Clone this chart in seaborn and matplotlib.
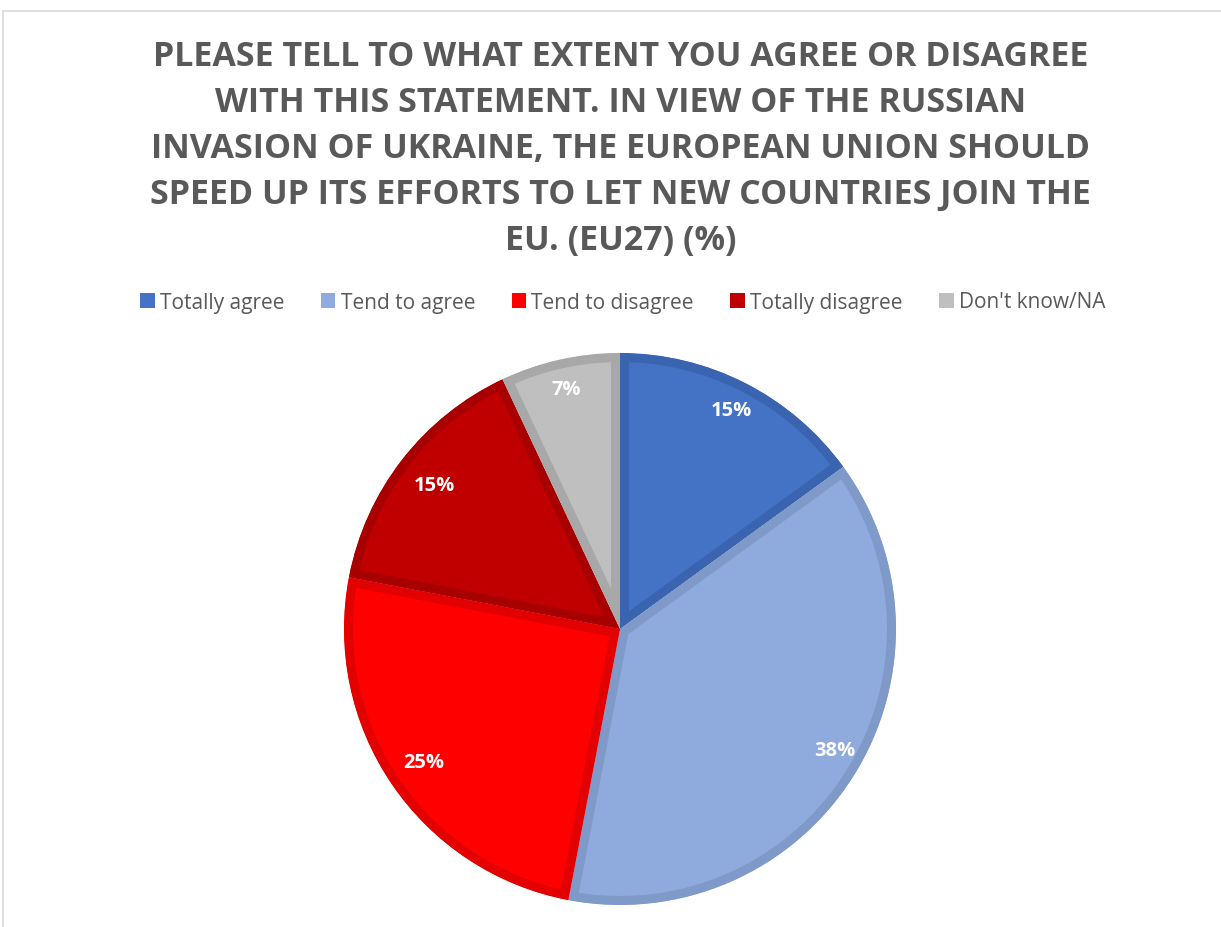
import matplotlib
matplotlib.use("Agg")
import matplotlib.pyplot as plt
import seaborn as sns
import numpy as np
from matplotlib.patches import Rectangle, Patch, Wedge

categories = ["Totally agree", "Tend to agree", "Tend to disagree", "Totally disagree", "Don't know/NA"]
values = [15, 38, 25, 15, 7]
labels = ["15%", "38%", "25%", "15%", "7%"]
colors = ["#4472C4", "#8FAADC", "#FF0000", "#C00000", "#BFBFBF"]
edge_colors = ["#3A64B0", "#7F9AC8", "#E30000", "#A80000", "#A8A8A8"]
title = ("PLEASE TELL TO WHAT EXTENT YOU AGREE OR DISAGREE\nWITH THIS STATEMENT. IN VIEW OF THE RUSSIAN\n"
         "INVASION OF UKRAINE, THE EUROPEAN UNION SHOULD\nSPEED UP ITS EFFORTS TO LET NEW COUNTRIES JOIN THE\n"
         "EU. (EU27) (%)")

sns.set_style("white")
plt.rcParams['font.family'] = ['Open Sans', 'DejaVu Sans']

fig = plt.figure(figsize=(12.21, 9.28), dpi=100)
fig.patch.set_facecolor("white")

# chart frame
fig.patches.append(Rectangle((3/1221, -0.05), 1.2, 1 - 12/928 + 0.05, transform=fig.transFigure,
                             fill=False, edgecolor="#D9D9D9", lw=1.2))

ax = fig.add_axes([(620-276)/1221, (928-906)/928, 552/1221, 552/928])
wedges, texts, autotexts = ax.pie(values, colors=colors, startangle=90, counterclock=False,
                                  labels=None, autopct=lambda p: "", pctdistance=0.88,
                                  wedgeprops=dict(linewidth=0))
ax.set_xlim(-1.0, 1.0)
ax.set_ylim(-1.0, 1.0)
ax.set_aspect("equal")
ax.axis("off")

for w, ec in zip(wedges, edge_colors):
    w.set_edgecolor(ec)
    w.set_linewidth(13)
    clip = Wedge(w.center, w.r, w.theta1, w.theta2, transform=ax.transData)
    w.set_clip_on(True)
    w.set_clip_box(None)
    w.set_clip_path(clip)

dists = [0.89, 0.895, 0.86, 0.85, 0.89]
angle_shift = [0, 3, 0, 0, 0]
for w, lab, d, s, t in zip(wedges, labels, dists, angle_shift, autotexts):
    ang = np.deg2rad((w.theta1 + w.theta2) / 2 + s)
    t.set_position((d * np.cos(ang), d * np.sin(ang)))
    t.set_text(lab)
    t.set_color("white")
    t.set_fontsize(14.5)
    t.set_fontweight("bold")
    t.set_ha("center")
    t.set_va("center")

fig.text(0.508, 1 - 149/928, title, ha="center", va="center", fontsize=24.5, fontweight="bold",
         color="#595959", linespacing=1.46)

handles = [Patch(facecolor=c, edgecolor="none") for c in colors]
leg = fig.legend(handles, categories, loc="center", bbox_to_anchor=(0.510, 1 - 303/928), ncol=5,
                 frameon=False, fontsize=15, handlelength=0.7, handleheight=0.7, handletextpad=0.25,
                 columnspacing=1.75)
for t in leg.get_texts():
    t.set_color("#595959")

fig.savefig("out.png", dpi=100, facecolor="white")
